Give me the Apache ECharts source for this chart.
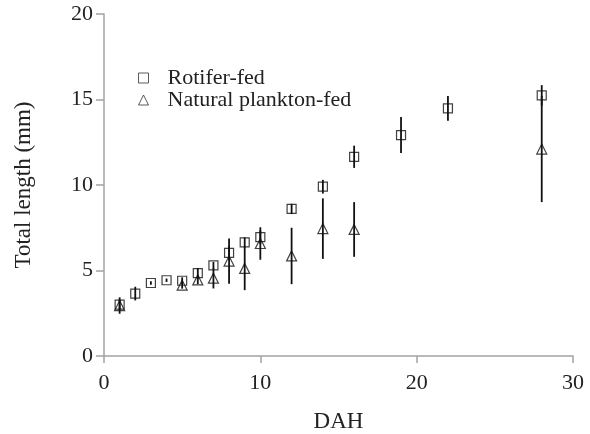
<!DOCTYPE html>
<html>
<head>
<meta charset="utf-8">
<script src="https://cdn.jsdelivr.net/npm/echarts@6/dist/echarts.min.js"></script>
<style>html,body{margin:0;padding:0;background:#fff;}#c{width:590px;height:434px;}</style>
</head>
<body>
<div id="c"></div>
<script>
var rotDays = [1, 2, 3, 4, 5, 6, 7, 8, 9, 10, 12, 14, 16, 19, 22, 28];
var rotMean = [3.0, 3.65, 4.27, 4.43, 4.4, 4.85, 5.3, 6.03, 6.64, 6.95, 8.6, 9.9, 11.65, 12.92, 14.48, 15.24];
var rotSD   = [0.3, 0.4, 0.1, 0.1, 0.2, 0.3, 0.2, 0.4, 0.3, 0.4, 0.3, 0.4, 0.65, 1.05, 0.72, 0.6];

var natDays = [1, 5, 6, 7, 8, 9, 10, 12, 14, 16, 28];
var natMean = [2.95, 4.14, 4.45, 4.55, 5.55, 5.12, 6.58, 5.85, 7.45, 7.4, 12.1];
var natSD   = [0.48, 0.2, 0.25, 0.6, 1.32, 1.27, 0.95, 1.65, 1.77, 1.6, 3.1];

var xTicks = [0, 10, 20, 30];
var yTicks = [0, 5, 10, 15, 20];

function pts(d, m) { return d.map(function (x, i) { return [x, m[i]]; }); }
function errs(d, m, s) { return d.map(function (x, i) { return [x, m[i] - s[i], m[i] + s[i]]; }); }

function errRender(params, api) {
  var lo = api.coord([api.value(0), api.value(1)]);
  var hi = api.coord([api.value(0), api.value(2)]);
  return {
    type: 'line',
    shape: { x1: lo[0], y1: lo[1], x2: hi[0], y2: hi[1] },
    style: { stroke: '#111', lineWidth: 1.8 }
  };
}

var FONT = 'Liberation Serif';
var axisColor = '#a3a3a3';

var chart = echarts.init(document.getElementById('c'), null, { renderer: 'canvas' });
chart.setOption({
  animation: false,
  backgroundColor: '#fff',
  grid: { left: 104, right: 17, top: 14, bottom: 78, containLabel: false, outerBoundsMode: 'none' },
  legend: {
    orient: 'vertical',
    left: 133,
    top: 62,
    itemWidth: 10,
    itemHeight: 10,
    itemGap: 0,
    data: ['Rotifer-fed', 'Natural plankton-fed'],
    itemStyle: { color: 'rgba(255,255,255,0)', borderColor: '#333', borderWidth: 1 },
    textStyle: { fontFamily: FONT, fontSize: 22, color: '#222', lineHeight: 22, padding: [0, 0, 0, 14] }
  },
  xAxis: {
    type: 'value', min: 0, max: 30, interval: 10,
    name: 'DAH', nameLocation: 'middle', nameGap: 54,
    nameTextStyle: { fontFamily: FONT, fontSize: 23, color: '#222' },
    axisLine: { lineStyle: { color: axisColor, width: 1.5 } },
    axisTick: { show: true, inside: false, length: 7, lineStyle: { color: axisColor, width: 1.5 } },
    splitLine: { show: false },
    axisLabel: { fontFamily: FONT, fontSize: 22, color: '#222', margin: 16 }
  },
  yAxis: {
    type: 'value', min: 0, max: 20, interval: 5,
    name: 'Total length (mm)', nameLocation: 'middle', nameGap: 69, nameRotate: 90,
    nameTextStyle: { fontFamily: FONT, fontSize: 23, color: '#222' },
    axisLine: { show: true, lineStyle: { color: axisColor, width: 1.5 } },
    axisTick: { show: true, inside: false, length: 8, lineStyle: { color: axisColor, width: 1.5 } },
    splitLine: { show: false },
    axisLabel: { fontFamily: FONT, fontSize: 22, color: '#222', margin: 11 }
  },
  series: [
    {
      name: 'Rotifer-err', type: 'custom', renderItem: errRender,
      data: errs(rotDays, rotMean, rotSD), encode: { x: 0, y: [1, 2] }, z: 1, silent: true
    },
    {
      name: 'Natural-err', type: 'custom', renderItem: errRender,
      data: errs(natDays, natMean, natSD), encode: { x: 0, y: [1, 2] }, z: 1, silent: true
    },
    {
      name: 'Rotifer-fed', type: 'scatter', symbol: 'rect', symbolSize: 9,
      itemStyle: { color: 'rgba(255,255,255,0)', borderColor: '#111', borderWidth: 1.2 },
      data: pts(rotDays, rotMean), z: 3
    },
    {
      name: 'Natural plankton-fed', type: 'scatter', symbol: 'triangle', symbolSize: [10, 10],
      itemStyle: { color: 'rgba(255,255,255,0)', borderColor: '#111', borderWidth: 1.2 },
      data: pts(natDays, natMean), z: 3
    }
  ]
});
</script>
</body>
</html>
